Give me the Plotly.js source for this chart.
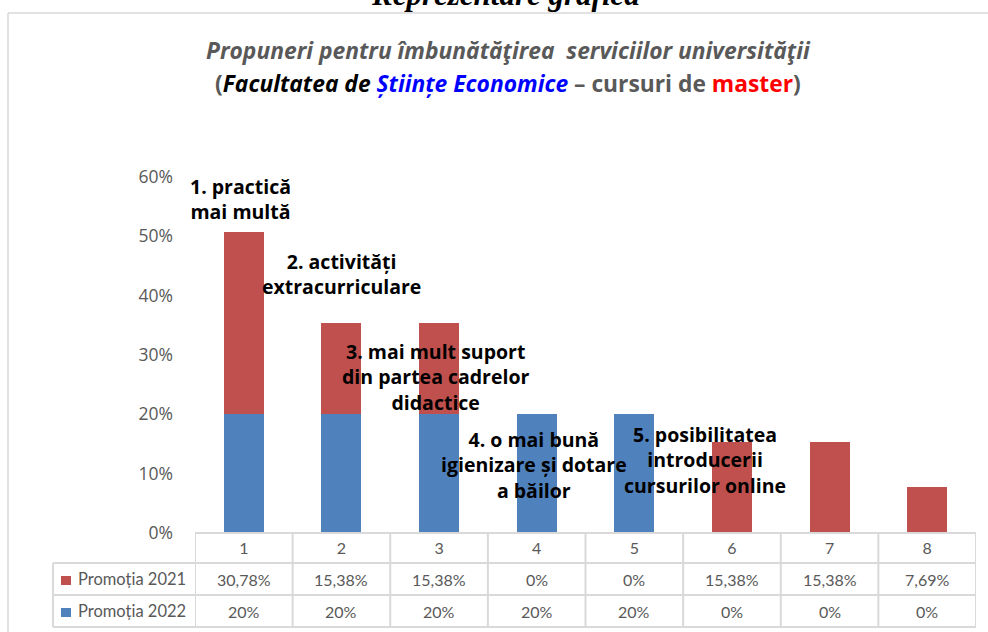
<!DOCTYPE html>
<html>
<head>
<meta charset="utf-8">
<script src="https://cdn.plot.ly/plotly-3.0.1.min.js"></script>
<style>html,body{margin:0;padding:0;background:#fff;}#chart{width:988px;height:632px;}</style>
</head>
<body>
<div id="chart"></div>
<script>
// ---- data ----
const categories = [1, 2, 3, 4, 5, 6, 7, 8];
const categoryLabels = ["1", "2", "3", "4", "5", "6", "7", "8"];
const series2021Name = "Promoția 2021";
const series2022Name = "Promoția 2022";
const values2021 = [30.78, 15.38, 15.38, 0, 0, 15.38, 15.38, 7.69];
const values2022 = [20, 20, 20, 20, 20, 0, 0, 0];
const proposalLabels = [
  "1. practică<br>mai multă",
  "2. activități<br>extracurriculare",
  "3. mai mult suport<br>din partea cadrelor<br>didactice",
  "4. o mai bună<br>igienizare și dotare<br>a băilor",
  "5. posibilitatea<br>introducerii<br>cursurilor online"
];
const yTickValues = [0, 0.1, 0.2, 0.3, 0.4, 0.5, 0.6];

// ---- layout helpers (positions kept out of data) ----
const W = 988, H = 632;
const M = {l: 195, r: 12, t: 177, b: 99};
const plotW = W - M.l - M.r, plotH = H - M.t - M.b;
const px = x => (x - M.l) / plotW;            // pixel x -> paper
const py = y => (H - M.b - y) / plotH;         // pixel y -> paper
const labelPos = [[0.971, 0.563], [1.996, 0.437], [2.969, 0.263], [3.972, 0.115], [5.724, 0.123]];

const FONT = "Lato, 'Open Sans', sans-serif";
const WIDE = "'Open Sans', Lato, sans-serif";
const GRAY = "#595959";
const GRID = "#d9d9d9";
const RED = "#c0504d";
const BLUE = "#4f81bd";

const fmt = v => String(v).replace('.', ',') + '%';

const traces = [
  {type: 'bar', name: series2022Name, x: categories, y: values2022.map(v => v / 100),
   marker: {color: BLUE, line: {width: 0}}, width: 0.41, hoverinfo: 'skip'},
  {type: 'bar', name: series2021Name, x: categories, y: values2021.map(v => v / 100),
   marker: {color: RED, line: {width: 0}}, width: 0.41, hoverinfo: 'skip'}
];

const shapes = [];
const annotations = [];

// outer frame (top + left)
shapes.push({type: 'line', xref: 'paper', yref: 'paper', x0: px(8), x1: px(990), y0: py(13), y1: py(13),
  line: {color: GRID, width: 1.5}});
shapes.push({type: 'line', xref: 'paper', yref: 'paper', x0: px(8), x1: px(8), y0: py(13), y1: py(634),
  line: {color: GRID, width: 1.5}});

// data table grid
const rowTop = 533, rowLines = [563, 595, 627];
rowLines.forEach(y => shapes.push({type: 'line', xref: 'paper', yref: 'paper', x0: px(53), x1: 1, y0: py(y), y1: py(y),
  line: {color: GRID, width: 2}}));
shapes.push({type: 'line', xref: 'paper', yref: 'paper', x0: 0, x1: 1, y0: py(rowTop), y1: py(rowTop),
  line: {color: GRID, width: 2}});
for (let i = 0; i <= categories.length; i++) {
  shapes.push({type: 'line', xref: 'x', yref: 'paper', x0: categories[0] - 0.5 + i, x1: categories[0] - 0.5 + i,
    y0: py(rowTop), y1: py(627), line: {color: GRID, width: 2}});
}
shapes.push({type: 'line', xref: 'paper', yref: 'paper', x0: px(53), x1: px(53), y0: py(563), y1: py(627),
  line: {color: GRID, width: 2}});

// legend keys
shapes.push({type: 'rect', xref: 'paper', yref: 'paper', x0: px(61), x1: px(71), y0: py(576), y1: py(585),
  fillcolor: RED, line: {width: 0}});
shapes.push({type: 'rect', xref: 'paper', yref: 'paper', x0: px(61), x1: px(71), y0: py(608), y1: py(617),
  fillcolor: BLUE, line: {width: 0}});
annotations.push({xref: 'paper', yref: 'paper', x: px(76), y: py(579), xanchor: 'left', yanchor: 'middle',
  text: series2021Name, showarrow: false, font: {family: FONT, size: 16.5, color: GRAY}});
annotations.push({xref: 'paper', yref: 'paper', x: px(76), y: py(611), xanchor: 'left', yanchor: 'middle',
  text: series2022Name, showarrow: false, font: {family: FONT, size: 16.5, color: GRAY}});

// table values
categories.forEach((c, i) => {
  annotations.push({xref: 'x', yref: 'paper', x: c, y: py(579), xanchor: 'center', yanchor: 'middle',
    text: fmt(values2021[i]), showarrow: false, font: {family: FONT, size: 16, color: GRAY}});
  annotations.push({xref: 'x', yref: 'paper', x: c, y: py(611), xanchor: 'center', yanchor: 'middle',
    text: fmt(values2022[i]), showarrow: false, font: {family: FONT, size: 16, color: GRAY}});
});

// proposal labels
proposalLabels.forEach((t, i) => {
  annotations.push({xref: 'x', yref: 'y', x: labelPos[i][0], y: labelPos[i][1], xanchor: 'center', yanchor: 'middle',
    text: '<b>' + t + '</b>', showarrow: false, font: {family: WIDE, size: 19.5, color: '#000'}});
});

// titles
annotations.push({xref: 'paper', yref: 'paper', x: px(505), y: py(14), xanchor: 'center', yanchor: 'bottom',
  text: '<b><i>Reprezentare grafică</i></b>', showarrow: false,
  font: {family: "'Liberation Serif', 'DejaVu Serif', serif", size: 31, color: '#000'}});
annotations.push({xref: 'paper', yref: 'paper', x: px(508), y: py(50), xanchor: 'center', yanchor: 'middle',
  text: '<b><i>Propuneri pentru îmbunătăţirea  serviciilor universităţii</i></b>', showarrow: false,
  font: {family: WIDE, size: 22.8, color: GRAY}});
annotations.push({xref: 'paper', yref: 'paper', x: px(508), y: py(84), xanchor: 'center', yanchor: 'middle',
  text: '<b>(<i><span style="color:#000">Facultatea de </span><span style="color:#0000ff">Științe Economice</span></i> – cursuri de <span style="color:#ff0000">master</span>)</b>',
  showarrow: false, font: {family: WIDE, size: 22.8, color: GRAY}});

const layout = {
  width: W, height: H,
  margin: M,
  paper_bgcolor: '#fff', plot_bgcolor: '#fff',
  barmode: 'stack', bargap: 0.59,
  showlegend: false,
  xaxis: {range: [0.5, 8.5], tickvals: categories, ticktext: categoryLabels, showgrid: false, zeroline: false,
    showline: false, ticks: '', tickfont: {family: FONT, size: 16, color: GRAY}, ticklabelstandoff: 4, fixedrange: true},
  yaxis: {range: [0, 0.6], tickvals: yTickValues, tickformat: '.0%', showgrid: false, zeroline: false, showline: false,
    ticks: '', tickfont: {family: WIDE, size: 17.5, color: GRAY}, ticklabelstandoff: 21, fixedrange: true},
  shapes: shapes,
  annotations: annotations
};

Plotly.newPlot('chart', traces, layout, {staticPlot: true, displayModeBar: false});
</script>
</body>
</html>
